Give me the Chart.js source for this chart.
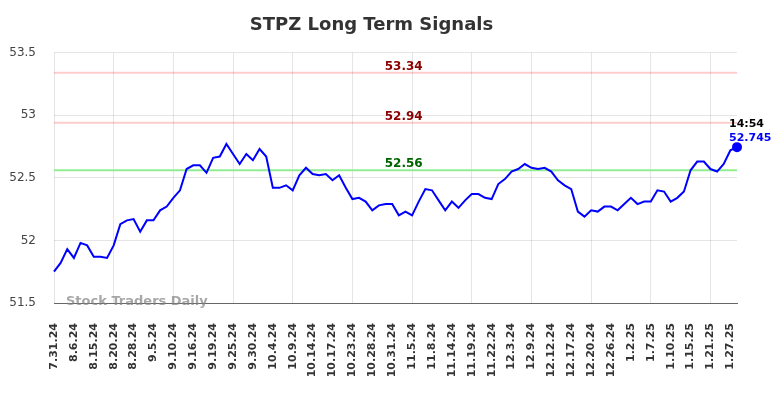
<!DOCTYPE html>
<html>
<head>
<meta charset="utf-8">
<title>STPZ Long Term Signals</title>
<script src="https://cdn.jsdelivr.net/npm/chart.js@4.4.0/dist/chart.umd.min.js"></script>
<style>
	html, body { margin: 0; padding: 0; background: #fff; }
	canvas { display: block; }
</style>
</head>
<body>
<canvas id="signalChart" width="784" height="398"></canvas>
<script>

// tick labels, one every third point
var tickLabels = ["7.31.24", "8.6.24", "8.15.24", "8.20.24", "8.28.24", "9.5.24", "9.10.24",
	"9.16.24", "9.19.24", "9.25.24", "9.30.24", "10.4.24", "10.9.24", "10.14.24", "10.17.24",
	"10.23.24", "10.28.24", "10.31.24", "11.5.24", "11.8.24", "11.14.24", "11.19.24", "11.22.24",
	"12.3.24", "12.9.24", "12.12.24", "12.17.24", "12.20.24", "12.26.24", "1.2.25", "1.7.25",
	"1.10.25", "1.15.25", "1.21.25", "1.27.25"];

var prices = [51.75, 51.82, 51.93, 51.86, 51.98, 51.96, 51.87, 51.87, 51.86, 51.96,
	52.13, 52.16, 52.17, 52.07, 52.16, 52.16, 52.24, 52.27, 52.34, 52.40,
	52.57, 52.60, 52.60, 52.54, 52.66, 52.67, 52.77, 52.69, 52.61, 52.69,
	52.64, 52.73, 52.67, 52.42, 52.42, 52.44, 52.40, 52.52, 52.58, 52.53,
	52.52, 52.53, 52.48, 52.52, 52.42, 52.33, 52.34, 52.31, 52.24, 52.28,
	52.29, 52.29, 52.20, 52.23, 52.20, 52.31, 52.41, 52.40, 52.32, 52.24,
	52.31, 52.26, 52.32, 52.37, 52.37, 52.34, 52.33, 52.45, 52.49, 52.55,
	52.57, 52.61, 52.58, 52.57, 52.58, 52.55, 52.48, 52.44, 52.41, 52.23,
	52.19, 52.24, 52.23, 52.27, 52.27, 52.24, 52.29, 52.34, 52.29, 52.31,
	52.31, 52.40, 52.39, 52.31, 52.34, 52.39, 52.56, 52.63, 52.63, 52.57,
	52.55, 52.61, 52.72, 52.745];

var resistanceLevels = [53.34, 52.94];
var supportLevels = [52.56];
var lastTime = "14:54";

var labels = prices.map(function(p, i) {
	return i % 3 === 0 ? tickLabels[i / 3] : "";
});

Chart.defaults.font.family = "'DejaVu Sans', sans-serif";

var signalLines = {
	id: 'signalLines',
	beforeDatasetsDraw: function(chart) {
		var ctx = chart.ctx, area = chart.chartArea, y = chart.scales.y;
		ctx.save();
		ctx.lineWidth = 2;
		function level(v, color) {
			var py = y.getPixelForValue(v);
			ctx.strokeStyle = color;
			ctx.beginPath();
			ctx.moveTo(area.left, py);
			ctx.lineTo(area.right, py);
			ctx.stroke();
		}
		resistanceLevels.forEach(function(v) { level(v, 'rgba(255,0,0,0.2)'); });
		supportLevels.forEach(function(v) { level(v, '#90ee90'); });
		ctx.restore();
	},
	afterDatasetsDraw: function(chart) {
		var ctx = chart.ctx, area = chart.chartArea, y = chart.scales.y;
		var cx = area.left + (area.right - area.left) * 0.512;
		ctx.save();
		ctx.font = "bold 12px 'DejaVu Sans'";
		ctx.textAlign = 'center';
		ctx.textBaseline = 'alphabetic';
		resistanceLevels.forEach(function(v) {
			ctx.fillStyle = '#8b0000';
			ctx.fillText(v.toFixed(2), cx, y.getPixelForValue(v) - 3);
		});
		supportLevels.forEach(function(v) {
			ctx.fillStyle = '#006400';
			ctx.fillText(v.toFixed(2), cx, y.getPixelForValue(v) - 3);
		});

		// last point time and value
		var pt = chart.getDatasetMeta(0).data[prices.length - 1];
		ctx.textAlign = 'left';
		ctx.font = "bold 11px 'DejaVu Sans'";
		ctx.fillStyle = '#000';
		ctx.fillText(lastTime, pt.x - 8, pt.y - 20);
		ctx.fillStyle = '#0000ff';
		ctx.fillText(String(prices[prices.length - 1]), pt.x - 8, pt.y - 6);
		ctx.restore();
	},
	afterDraw: function(chart) {
		var ctx = chart.ctx, area = chart.chartArea;
		ctx.save();
		ctx.font = "bold 13px 'DejaVu Sans'";
		ctx.fillStyle = 'rgba(130,130,130,0.7)';
		ctx.textAlign = 'left';
		ctx.textBaseline = 'middle';
		ctx.fillText('Stock Traders Daily', area.left + 12, area.bottom - 1);
		ctx.restore();
	}
};

var ctx = document.getElementById('signalChart').getContext('2d');

var myChart = new Chart(ctx, {
	type: 'line',
	data: {
		labels: labels,
		datasets: [
			{
				label: "STPZ",
				data: prices,
				borderColor: "#0000ff",
				backgroundColor: "#0000ff",
				borderWidth: 2,
				fill: false,
				tension: 0,
				clip: false,
				pointRadius: function(c) { return c.dataIndex === prices.length - 1 ? 4 : 0; },
				pointHoverRadius: 0
			}
		]
	},
	options: {
		responsive: false,
		animation: false,
		devicePixelRatio: 1,
		layout: { padding: { left: 6, right: 47, top: 0, bottom: 0 } },
		plugins: {
			legend: { display: false },
			tooltip: { enabled: false },
			title: {
				display: true,
				text: "STPZ Long Term Signals",
				color: "#333",
				font: { size: 18, weight: 'bold' },
				padding: { top: 15, bottom: 16 }
			}
		},
		scales: {
			x: {
				grid: {
					drawTicks: false,
					color: function(c) { return c.index % 3 === 0 ? 'rgba(0,0,0,0.1)' : 'rgba(0,0,0,0)'; }
				},
				border: { color: '#666' },
				ticks: {
					autoSkip: false,
					minRotation: 90,
					maxRotation: 90,
					padding: 20,
					color: '#333',
					font: { size: 11, weight: 'bold' },
					callback: function(val, idx) { return idx % 3 === 0 ? labels[idx] : null; }
				},
				afterFit: function(scale) { scale.height = 95; }
			},
			y: {
				min: 51.5,
				max: 53.5,
				grid: { drawTicks: false, color: 'rgba(0,0,0,0.1)' },
				border: { display: false },
				ticks: {
					stepSize: 0.5,
					padding: 18,
					color: '#444',
					font: { size: 12 },
					callback: function(v) { return String(v); }
				},
				afterFit: function(scale) { scale.width = 48; }
			}
		}
	},
	plugins: [signalLines]
});

</script>
</body>
</html>
